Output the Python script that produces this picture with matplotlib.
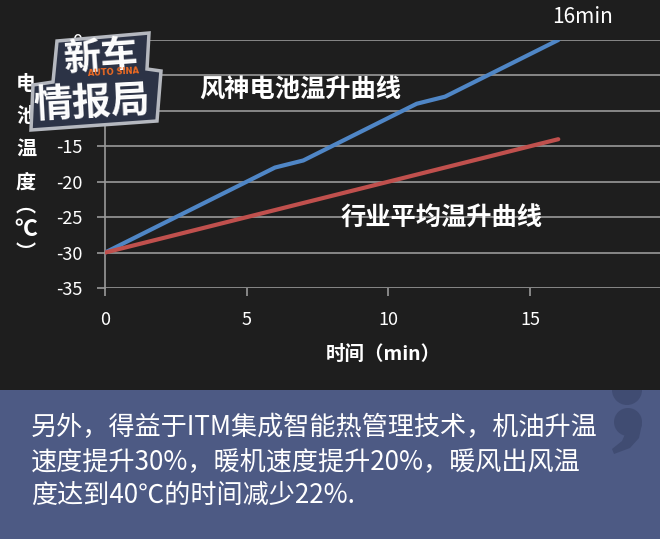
import matplotlib
matplotlib.use('Agg')
import matplotlib.pyplot as plt
from matplotlib.patches import Polygon, Rectangle, Circle

plt.rcParams['font.family'] = ['Noto Sans CJK SC', 'DejaVu Sans']

# data
time_blue = [0, 6, 7, 11, 12, 16]
temp_blue = [-30, -18, -17, -9, -8, 0]
time_red = [0, 16]
temp_red = [-30, -14]

x_ticks = [0, 5, 10, 15]
y_ticks = [-35, -30, -25, -20, -15, -10, -5, 0]
y_tick_labels = ['-35', '-30', '-25', '-20', '-15', '-10', '-5', '0']

blue_label = '风神电池温升曲线'
red_label = '行业平均温升曲线'
end_label = '16min'
x_title = '时间（min）'
y_title_chars = ['电', '池', '温', '度', '︵', '℃', '︶']
caption_lines = ['另外，得益于ITM集成智能热管理技术，机油升温',
                 '速度提升30%，暖机速度提升20%，暖风出风温',
                 '度达到40℃的时间减少22%.']

grid_col = '#999999'
blue = '#4f86c6'
red = '#c0504d'

fig = plt.figure(figsize=(6.6, 5.39), dpi=100, facecolor='#1e1e1e')

# main chart
ax = fig.add_axes([105 / 660, 1 - 288 / 539, 555 / 660, 248 / 539])
ax.set_facecolor('none')
ax.plot(time_blue, temp_blue, color=blue, lw=3, solid_joinstyle='round',
        solid_capstyle='round', zorder=3)
ax.plot(time_red, temp_red, color=red, lw=3, solid_capstyle='round', zorder=3)
ax.set_xlim(0, 555 / 28.33)
ax.set_ylim(-35, 0)
ax.set_xticks(x_ticks)
ax.set_yticks(y_ticks)
ax.set_yticklabels(y_tick_labels)
ax.grid(axis='y', color=grid_col, lw=1.2)
ax.grid(axis='x', visible=False)
for s in ['top', 'right', 'bottom']:
    ax.spines[s].set_visible(False)
ax.spines['left'].set_color(grid_col)
ax.spines['left'].set_linewidth(1.2)
ax.tick_params(colors=grid_col, labelcolor='white', labelsize=13,
               length=5.8, width=1.2, pad=10.5)

ax.text(6.88, -7.1, blue_label, color='white', fontsize=18.2,
        fontweight='bold', ha='center', va='center')
ax.text(11.88, -25.0, red_label, color='white', fontsize=18.2,
        fontweight='bold', ha='center', va='center')
ax.text(16.84, 3.3, end_label, color='white', fontsize=15,
        ha='center', va='center', clip_on=False)

# overlay in pixel coordinates
ov = fig.add_axes([0, 0, 1, 1], zorder=10)
ov.set_xlim(0, 660)
ov.set_ylim(539, 0)
ov.axis('off')
ov.patch.set_alpha(0)

for ch, yy, fs in zip(y_title_chars, [84, 116, 148, 182, 205, 230, 252],
                      [14.5, 14.5, 14.5, 14.5, 14.5, 16.5, 14.5]):
    ov.text(26, yy, ch, color='white', fontsize=fs, fontweight='bold',
            ha='center', va='center')
ov.text(383, 354, x_title, color='white', fontsize=14, fontweight='bold',
        ha='center', va='center')

# logo
logo = Polygon([(57, 41), (149, 33), (147, 69), (161, 71), (157, 121),
                (31, 130), (33, 85), (53, 82)], closed=True,
               facecolor='#2c3346', edgecolor='#b5b8bf', lw=2.5,
               joinstyle='miter', zorder=5)
ov.add_patch(logo)
ov.text(100, 57, '新车', color='white', fontsize=27, fontweight='heavy',
        ha='center', va='center', rotation=4, zorder=6)
ov.text(113, 72, 'AUTO SINA', color='#f26b21', fontsize=6,
        fontweight='bold', ha='center', va='center', rotation=3, zorder=6,
        family='DejaVu Sans')
ov.text(92, 103, '情报局', color='white', fontsize=28, fontweight='heavy',
        ha='center', va='center', rotation=3, zorder=6)

# bottom panel
panel = Rectangle((0, 390), 660, 149, facecolor='#4d5a84', edgecolor='none',
                  zorder=1)
ov.add_patch(panel)
dot = Circle((627, 390), 15, facecolor='#404c72', edgecolor='none', zorder=2)
ov.add_patch(dot)
dot.set_clip_path(panel)
ov.add_patch(Circle((628, 422), 14, facecolor='#404c72', edgecolor='none',
                    zorder=2))
ov.add_patch(Polygon([(642, 424), (639, 438), (630, 448), (614, 454),
                      (612, 449), (622, 441), (626, 432)], closed=True,
                     facecolor='#404c72', edgecolor='none', zorder=2))

for line, yy in zip(caption_lines, [428, 462, 495]):
    ov.text(31, yy, line, color='white', fontsize=18.8, ha='left',
            va='center', zorder=3)

fig.savefig('out.png', dpi=100, facecolor=fig.get_facecolor())
